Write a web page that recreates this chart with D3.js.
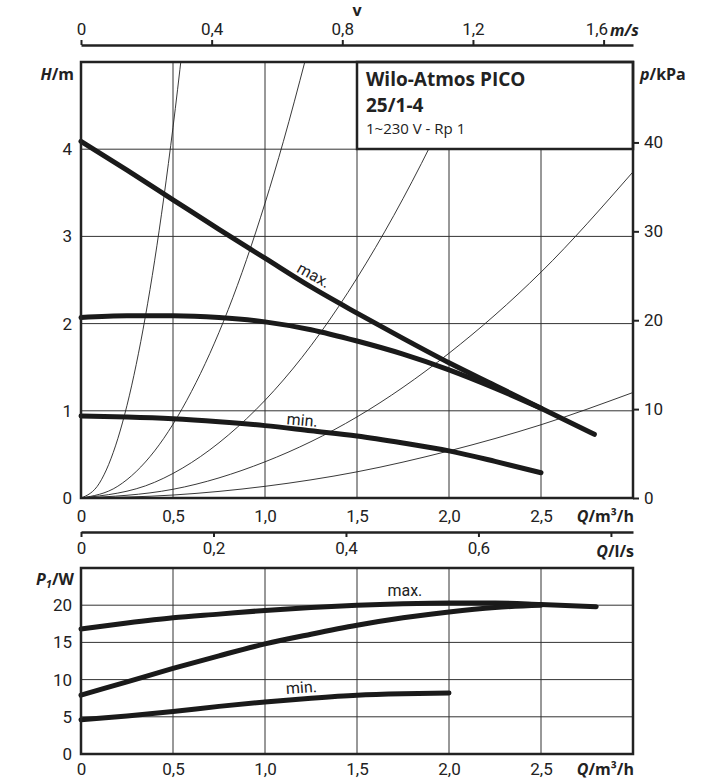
<!DOCTYPE html>
<html><head><meta charset="utf-8">
<script src="https://cdn.jsdelivr.net/npm/d3@7"></script>
<style>
html,body{margin:0;padding:0;background:#fff;}
svg{display:block;}
.tick text{font-family:Roboto,"Open Sans",sans-serif;font-size:17px;fill:#222;}
.lab{font-family:"Open Sans",sans-serif;font-weight:bold;font-size:16px;fill:#222;}
</style></head>
<body><div id="chart"></div>
<script>
// ---------------- data ----------------
const qTicks = [0, 0.5, 1.0, 1.5, 2.0, 2.5];
const hTicks = [0, 1, 2, 3, 4];
const kpaTicks = [0, 10, 20, 30, 40];
const vTicks = [0, 0.4, 0.8, 1.2, 1.6];
const lsTicks = [0, 0.2, 0.4, 0.6, 0.8];
const pTicks = [0, 5, 10, 15, 20];

// pump curves H (m) vs Q (m3/h)
const hMaxQ = [0, 0.25, 0.5, 0.75, 1.0, 1.25, 1.5, 1.75, 2.0, 2.25, 2.5, 2.79];
const hMaxH = [4.09, 3.76, 3.42, 3.08, 2.75, 2.42, 2.12, 1.83, 1.55, 1.29, 1.03, 0.73];
const hMidQ = [0, 0.25, 0.5, 0.75, 1.0, 1.25, 1.5, 1.75, 2.0, 2.25, 2.5];
const hMidH = [2.07, 2.09, 2.09, 2.07, 2.02, 1.93, 1.80, 1.65, 1.47, 1.26, 1.03];
const hMinQ = [0, 0.25, 0.5, 0.75, 1.0, 1.25, 1.5, 1.75, 2.0, 2.25, 2.5];
const hMinH = [0.94, 0.93, 0.91, 0.875, 0.83, 0.77, 0.71, 0.63, 0.54, 0.42, 0.29];

// system (pipe) curves, read points
const sys1Q = [0, 0.1, 0.2, 0.3, 0.4, 0.5, 0.55];
const sys1H = [0, 0.17, 0.68, 1.53, 2.72, 4.25, 5.14];
const sys2Q = [0, 0.2, 0.4, 0.6, 0.8, 1.0, 1.1, 1.22];
const sys2H = [0, 0.135, 0.54, 1.22, 2.16, 3.38, 4.09, 5.03];
const sys3Q = [0, 0.4, 0.8, 1.2, 1.6, 2.0, 2.12];
const sys3H = [0, 0.18, 0.72, 1.61, 2.87, 4.48, 5.03];
const sys4Q = [0, 0.5, 1.0, 1.5, 2.0, 2.5, 3.0];
const sys4H = [0, 0.10, 0.415, 0.93, 1.66, 2.59, 3.74];
const sys5Q = [0, 0.5, 1.0, 1.5, 2.0, 2.5, 3.0];
const sys5H = [0, 0.034, 0.134, 0.30, 0.54, 0.84, 1.21];

// power curves P1 (W) vs Q
const pMaxQ = [0, 0.25, 0.5, 0.75, 1.0, 1.25, 1.5, 1.75, 2.0, 2.25, 2.5, 2.8];
const pMaxP = [16.8, 17.6, 18.3, 18.8, 19.3, 19.7, 20.0, 20.2, 20.3, 20.3, 20.1, 19.8];
const pMidQ = [0, 0.25, 0.5, 0.75, 1.0, 1.25, 1.5, 1.75, 2.0, 2.25, 2.5];
const pMidP = [7.9, 9.7, 11.5, 13.2, 14.8, 16.1, 17.3, 18.3, 19.1, 19.7, 20.0];
const pMinQ = [0, 0.25, 0.5, 0.75, 1.0, 1.25, 1.5, 1.75, 2.0];
const pMinP = [4.6, 5.1, 5.7, 6.4, 7.0, 7.5, 7.9, 8.1, 8.2];

const titleLines = ["Wilo-Atmos PICO", "25/1-4", "1~230 V - Rp 1"];

// ---------------- chart ----------------
const W = 720, Ht = 780;
const svg = d3.select("#chart").append("svg").attr("width", W).attr("height", Ht);

const x = d3.scaleLinear().domain([0, 3]).range([81, 633]);
const yH = d3.scaleLinear().domain([0, 5]).range([498, 62]);
const yK = d3.scaleLinear().domain([0, 5 * 9.81]).range([498, 62]);
const yP = d3.scaleLinear().domain([0, 25]).range([754, 568]);
const xv = d3.scaleLinear().domain([0, 1.69]).range([81, 633]);
const xls = d3.scaleLinear().domain([0, 3 / 3.6]).range([81, 633]);

const fmt = d => d === 0 ? "0" : d3.format(".1f")(d).replace(".", ",");
const fmtInt = d => String(d);
const zip = (a, b) => a.map((v, i) => [v, b[i]]);

svg.append("clipPath").attr("id", "clipTop").append("rect")
  .attr("x", 81).attr("y", 62).attr("width", 552).attr("height", 436);

// grid top
const gTop = svg.append("g");
gTop.selectAll(".vg").data(qTicks.filter(d => d > 0)).join("line")
  .attr("x1", d => x(d)).attr("x2", d => x(d)).attr("y1", 62).attr("y2", 498)
  .attr("stroke", "#333").attr("stroke-width", 1);
gTop.selectAll(".hg").data(hTicks.filter(d => d > 0)).join("line")
  .attr("x1", 81).attr("x2", 633).attr("y1", d => yH(d)).attr("y2", d => yH(d))
  .attr("stroke", "#333").attr("stroke-width", 1);

// system curves
const lineH = d3.line().x(d => x(d[0])).y(d => yH(d[1])).curve(d3.curveMonotoneX);
const sys = [zip(sys1Q, sys1H), zip(sys2Q, sys2H), zip(sys3Q, sys3H), zip(sys4Q, sys4H), zip(sys5Q, sys5H)];
gTop.append("g").attr("clip-path", "url(#clipTop)").selectAll("path").data(sys).join("path")
  .attr("d", lineH).attr("fill", "none").attr("stroke", "#222").attr("stroke-width", 0.9);

// pump curves
const pumps = [zip(hMaxQ, hMaxH), zip(hMidQ, hMidH), zip(hMinQ, hMinH)];
gTop.append("g").selectAll("path").data(pumps).join("path")
  .attr("d", lineH).attr("fill", "none").attr("stroke", "#1a1a1a").attr("stroke-width", 5)
  .attr("stroke-linecap", "round").attr("stroke-linejoin", "round");

// title box
gTop.append("rect").attr("x", 357).attr("y", 62).attr("width", 276).attr("height", 87)
  .attr("fill", "#fff").attr("stroke", "#222").attr("stroke-width", 2.5);
const tt = gTop.append("g").attr("font-family", "'Open Sans',sans-serif").attr("fill", "#222");
tt.append("text").attr("x", 366).attr("y", 86).attr("font-size", 19).attr("font-weight", "bold").text(titleLines[0]);
tt.append("text").attr("x", 366).attr("y", 112).attr("font-size", 19).attr("font-weight", "bold").text(titleLines[1]);
tt.append("text").attr("x", 366).attr("y", 134).attr("font-size", 15).text(titleLines[2]);

// frame top
gTop.append("rect").attr("x", 81).attr("y", 62).attr("width", 552).attr("height", 436)
  .attr("fill", "none").attr("stroke", "#222").attr("stroke-width", 2.5);

// curve labels
const crvLab = (g, txt, px, py, rot) => g.append("text")
  .attr("transform", `translate(${px},${py}) rotate(${rot})`)
  .attr("text-anchor", "middle")
  .attr("font-family", "Roboto,'Open Sans',sans-serif")
  .attr("font-size", 16).attr("fill", "#222").text(txt);
crvLab(gTop, "max.", x(1.25), yH(2.5), 29);
crvLab(gTop, "min.", x(1.2), yH(0.83), 5);

// axes top chart
svg.append("g").attr("transform", "translate(0,498)")
  .call(d3.axisBottom(x).tickValues(qTicks).tickFormat(fmt).tickSize(0).tickPadding(12))
  .call(g => g.select(".domain").remove());
svg.append("g").attr("transform", "translate(81,0)")
  .call(d3.axisLeft(yH).tickValues(hTicks).tickFormat(fmtInt).tickSize(0).tickPadding(9))
  .call(g => g.select(".domain").remove());
svg.append("g").attr("transform", "translate(633,0)")
  .call(d3.axisRight(yK).tickValues(kpaTicks).tickFormat(fmtInt).tickSize(6).tickPadding(5).tickSizeOuter(0))
  .call(g => g.select(".domain").remove())
  .call(g => g.selectAll(".tick line").attr("stroke", "#222").attr("stroke-width", 2));

// velocity axis
svg.append("g").attr("transform", "translate(0,45)")
  .call(d3.axisTop(xv).tickValues(vTicks).tickFormat(fmt).tickSize(5).tickPadding(5).tickSizeOuter(0))
  .call(g => g.select(".domain").attr("stroke", "#222").attr("stroke-width", 2.5))
  .call(g => g.selectAll(".tick line").attr("stroke", "#222").attr("stroke-width", 2))
  .call(g => g.selectAll(".tick text").filter(d => d === 1.6).attr("text-anchor", "end").attr("dx", 4));

// l/s axis
svg.append("g").attr("transform", "translate(0,532)")
  .call(d3.axisBottom(xls).tickValues(lsTicks).tickFormat(d => d >= 0.8 ? "" : fmt(d)).tickSize(5).tickPadding(5).tickSizeOuter(0))
  .call(g => g.select(".domain").attr("stroke", "#222").attr("stroke-width", 2.5))
  .call(g => g.selectAll(".tick line").attr("stroke", "#222").attr("stroke-width", 2));

// bottom chart
const gBot = svg.append("g");
gBot.selectAll(".vg").data(qTicks.filter(d => d > 0)).join("line")
  .attr("x1", d => x(d)).attr("x2", d => x(d)).attr("y1", 568).attr("y2", 754)
  .attr("stroke", "#333").attr("stroke-width", 1);
gBot.selectAll(".hg").data(pTicks.filter(d => d > 0)).join("line")
  .attr("x1", 81).attr("x2", 633).attr("y1", d => yP(d)).attr("y2", d => yP(d))
  .attr("stroke", "#333").attr("stroke-width", 1);
const lineP = d3.line().x(d => x(d[0])).y(d => yP(d[1])).curve(d3.curveMonotoneX);
gBot.append("g").selectAll("path").data([zip(pMaxQ, pMaxP), zip(pMidQ, pMidP), zip(pMinQ, pMinP)]).join("path")
  .attr("d", lineP).attr("fill", "none").attr("stroke", "#1a1a1a").attr("stroke-width", 5)
  .attr("stroke-linecap", "round").attr("stroke-linejoin", "round");
gBot.append("rect").attr("x", 81).attr("y", 568).attr("width", 552).attr("height", 186)
  .attr("fill", "none").attr("stroke", "#222").attr("stroke-width", 2.5);
crvLab(gBot, "max.", x(1.76), yP(21.2), 0);
crvLab(gBot, "min.", x(1.2), yP(8.2), -4);

svg.append("g").attr("transform", "translate(0,754)")
  .call(d3.axisBottom(x).tickValues(qTicks).tickFormat(fmt).tickSize(0).tickPadding(9))
  .call(g => g.select(".domain").remove());
svg.append("g").attr("transform", "translate(81,0)")
  .call(d3.axisLeft(yP).tickValues(pTicks).tickFormat(fmtInt).tickSize(0).tickPadding(9))
  .call(g => g.select(".domain").remove());

// unit labels
const unit = (xp, yp, anchor, parts) => {
  const t = svg.append("text").attr("class", "lab").attr("x", xp).attr("y", yp).attr("text-anchor", anchor);
  parts.forEach(p => {
    const s = t.append("tspan").text(p.t);
    if (p.i) s.attr("font-style", "italic");
    if (p.sub) s.attr("font-size", 11);
    if (p.dy) s.attr("dy", p.dy);
  });
  return t;
};
unit(74, 80, "end", [{t: "H", i: 1}, {t: "/m"}]);
unit(640, 80, "start", [{t: "p", i: 1}, {t: "/kPa"}]);
unit(74, 585, "end", [{t: "P", i: 1}, {t: "1", i: 1, sub: 1, dy: 3}, {t: "/W", dy: -3}]);
unit(634, 522, "end", [{t: "Q", i: 1}, {t: "/m³/h"}]);
unit(634, 557, "end", [{t: "Q", i: 1}, {t: "/l/s"}]);
unit(634, 775, "end", [{t: "Q", i: 1}, {t: "/m³/h"}]);
unit(610, 36, "start", [{t: "m/s", i: 1}]);
unit(357, 16, "middle", [{t: "v"}]);
</script></body></html>
